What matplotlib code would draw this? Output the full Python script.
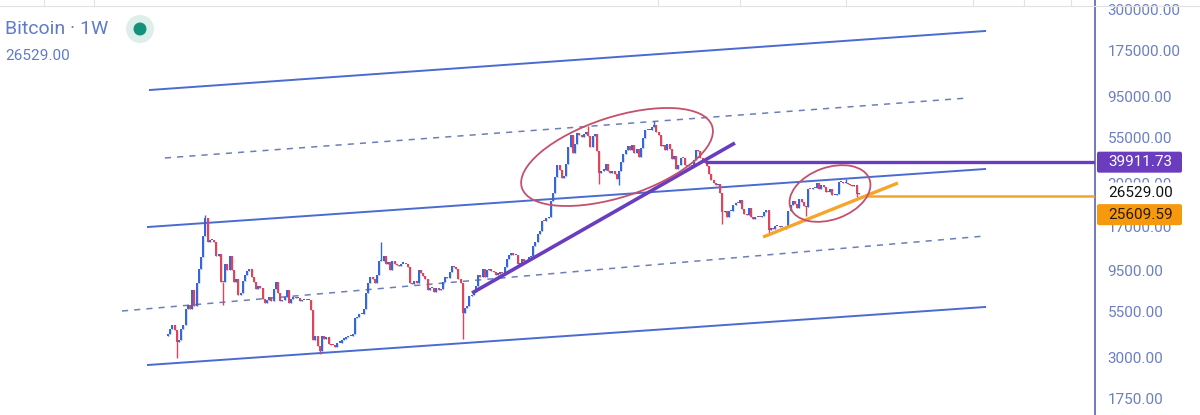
import numpy as np
import pandas as pd
import matplotlib
matplotlib.use("Agg")
import matplotlib.pyplot as plt
from matplotlib.patches import Ellipse, FancyBboxPatch
from matplotlib.transforms import ScaledTranslation
from matplotlib.lines import Line2D

plt.rcParams['font.family'] = ['Roboto', 'DejaVu Sans']

# weekly closes, week starting 2017-08-14
closes_2017 = [4090, 4350, 4580, 4330, 3680, 3780, 4360, 4610, 5690, 5990, 5720, 7360, 5950, 8040,
               9730, 11300, 15000, 19100, 13900, 14150]
closes_2018 = [14200, 13800, 11500, 11800, 8200, 8100, 10400, 9600, 11500, 9500, 8200, 8500, 6900,
               7000, 8300, 8900, 9400, 9700, 8700, 8200, 7400, 7700, 7500, 6500, 6200, 6400,
               6700, 6300, 7400, 8200, 7000, 6300, 6400, 6700, 7300, 6200, 6500, 6700, 6600,
               6600, 6300, 6400, 6450, 6400, 6400, 5600, 3800, 4000, 3500, 3250, 4000, 3850, 3950]
closes_2019 = [3600, 3550, 3530, 3450, 3650, 3650, 3800, 3850, 3920, 4000, 4000, 4100,
               5050, 5100, 5300, 5300, 5700, 7000, 8000, 8700, 8500, 8000, 9000, 10800, 10800,
               11500, 10300, 10600, 9500, 10800, 10300, 10200, 10100, 10400, 10400, 10300, 10000,
               8050, 7900, 8300, 8000, 9500, 9200, 8800, 8500, 7300, 7500, 7500, 7100, 7500, 7300, 7400]
closes_2020 = [8200, 8700, 8600, 9300, 10100, 9900, 9700, 8500, 8000, 5400, 5800, 5900, 6800,
               6900, 7100, 7700, 8900, 8700, 9700, 8700, 9500, 9700, 9400, 9300, 9000, 9100,
               9250, 9200, 9900, 11100, 11700, 11900, 11700, 11700, 10300, 10300, 11000, 10800, 10700,
               11300, 11500, 13100, 13800, 15500, 16000, 18400, 18200, 19000, 19200, 23700, 26500, 33000]
closes_2021 = [38200, 36000, 32300, 33100, 38900, 48600, 57500, 45200, 51000, 59000, 57500, 55800,
               57800, 59800, 56200, 49000, 56600, 58200, 46400, 34700, 35700, 35800, 39100, 35500,
               34700, 35300, 34200, 31800, 35400, 39900, 44600, 47000, 49300, 47100, 49900, 45200,
               47300, 42700, 48200, 54900, 61500, 61300, 61300, 63300, 65500, 59700, 57200, 49400,
               50100, 46700, 50800, 47300]
closes_2022 = [41800, 43100, 36300, 38200, 42400, 42200, 38400, 37700, 38400, 37800, 41300, 46800,
               46400, 42200, 40400, 39500, 37700, 34100, 31300, 30300, 29400, 29900, 26600, 20600,
               21000, 19300, 20800, 20800, 22600, 23300, 23200, 24300, 21500, 20000, 19800, 21800,
               19400, 18800, 19300, 19400, 19200, 19600, 20600, 21200, 16300, 16700, 16400, 17100,
               17100, 16800, 16800, 16500]
closes_2023 = [17100, 20900, 22700, 23800, 22900, 21800, 24600, 23500, 22200, 22100, 28000, 27900,
               28500, 28300, 30300, 27800, 29300, 28900, 26900, 26700, 28100, 25700, 25900, 26300,
               30500, 30600, 30300, 30300, 29800, 29300, 29100, 29400, 26100, 26529]

# notable wick extremes by week
wick_lows = {"2017-09-11": 2970, "2018-02-05": 6000, "2018-12-10": 3150, "2020-03-09": 3850,
             "2021-05-17": 30000, "2021-07-19": 29300, "2022-06-13": 17600, "2022-11-07": 15500,
             "2023-03-06": 19600, "2023-08-14": 25200}
wick_highs = {"2017-12-11": 19800, "2019-06-24": 13800, "2021-04-12": 64800, "2021-11-08": 69000,
              "2023-07-10": 31800}

yticks = [1750, 3000, 5500, 9500, 17000, 30000, 55000, 95000, 175000, 300000]

# drawings: (week index, price)
channel_solid = [[(-8.2, 103900), (371.4, 227100)],
                 [(-9.1, 16900), (371.4, 36450)],
                 [(-9.1, 2713), (371.4, 5852)]]
channel_dashed = [[(-1.4, 42190), (363.6, 93440)],
                  [(-20.9, 5549), (371.4, 15000)]]
purple_trend = [(138.2, 7043), (257.7, 51450)]
orange_trend = [(270.5, 14800), (331.8, 30280)]
purple_level = 39911.73
orange_level = 25609.59
last_price = 26529.00
purple_level_start = 245
orange_level_start = 317.7
# ellipses: center (week, price), half-axes in px, angle
ellipses = [(204.1, 42740, 100, 40, 18), (300.9, 26340, 42, 26, 20)]

closes = np.array(closes_2017 + closes_2018 + closes_2019 + closes_2020 +
                  closes_2021 + closes_2022 + closes_2023, dtype=float)
dates = pd.date_range("2017-08-14", periods=len(closes), freq="W-MON")
opens = np.concatenate([[4000.0], closes[:-1]])
highs = np.maximum(opens, closes)
lows = np.minimum(opens, closes)
for d, v in wick_lows.items():
    lows[dates.get_loc(pd.Timestamp(d))] = v
for d, v in wick_highs.items():
    highs[dates.get_loc(pd.Timestamp(d))] = v
x = np.arange(len(closes))

W, H, DPI = 1200, 415, 100
fig = plt.figure(figsize=(W / DPI, H / DPI), dpi=DPI)
ax = fig.add_axes([0, 0, 1095 / W, 1])
ax.set_yscale("log")
ax.set_xlim(-76.36, 421.36)
ax.set_ylim(1398, 342500)

up = closes >= opens
blue, red = "#3567dc", "#e0435a"
cols = np.where(up, blue, red)
ax.vlines(x, lows, highs, colors=cols, lw=1.0, zorder=3)
bottoms = np.minimum(opens, closes)
heights = np.maximum(np.abs(closes - opens), bottoms * 0.015)
ax.bar(x, heights, bottom=bottoms, width=0.85, color=cols, linewidth=0, zorder=3)

for seg in channel_solid:
    (x0, y0), (x1, y1) = seg
    ax.plot([x0, x1], [y0, y1], color="#4a6bd0", lw=1.4, zorder=2)
for seg in channel_dashed:
    (x0, y0), (x1, y1) = seg
    ax.plot([x0, x1], [y0, y1], color="#6c7fb8", lw=1.1, ls=(0, (4, 4)), zorder=2)

ax.plot(*zip(*purple_trend), color="#6a3dbf", lw=2.6, zorder=4, solid_capstyle="butt")
ax.plot(*zip(*orange_trend), color="#f5a52a", lw=2.4, zorder=4, solid_capstyle="butt")
ax.plot([purple_level_start, 421.36], [purple_level, purple_level], color="#6a3dbf", lw=2.4, zorder=4)
ax.plot([orange_level_start, 421.36], [orange_level, orange_level], color="#f5a52a", lw=1.8, zorder=4)

for xc, yc, a, b, ang in ellipses:
    tr = fig.dpi_scale_trans + ScaledTranslation(xc, yc, ax.transData)
    e = Ellipse((0, 0), 2 * a / DPI, 2 * b / DPI, angle=ang, transform=tr,
                fill=False, ec="#c4506c", lw=1.3, zorder=5)
    ax.add_patch(e)

# axes styling
for s in ["left", "top", "bottom"]:
    ax.spines[s].set_visible(False)
ax.spines["right"].set_color("#5565ad")
ax.spines["right"].set_linewidth(1.2)
ax.set_xticks([])
ax.yaxis.tick_right()
ax.set_yticks(yticks)
ax.set_yticklabels(["%.2f" % v for v in yticks])
ax.yaxis.set_minor_locator(matplotlib.ticker.NullLocator())
ax.tick_params(axis="y", length=0, pad=9, labelsize=11, labelcolor="#6b7fc4")


# price labels on the axis: boxes in pixel coordinates
def price_label(price, text, fc, tc, dy=0):
    ypx = ax.transData.transform((0, price))[1] + dy
    box = FancyBboxPatch((1097, ypx - 10.5), 85, 21, boxstyle="round,pad=0,rounding_size=2",
                         transform=None, fc=fc, ec="none", zorder=10)
    fig.patches.append(box)
    fig.text(1108 / W, ypx / H, text, fontsize=11, color=tc, va="center", ha="left", zorder=11)


price_label(purple_level, "%.2f" % purple_level, "#6a3dbf", "white")
price_label(last_price, "%.2f" % last_price, "white", "#111111")
price_label(orange_level, "%.2f" % orange_level, "#f7990c", "#2a1a00", dy=-19)

# header
fig.text(5 / W, 1 - 29 / H, "Bitcoin · 1W", fontsize=14, color="#5f7bd0", va="center", ha="left")
fig.text(5 / W, 1 - 56 / H, "%.2f" % last_price, fontsize=11, color="#5f7bd0", va="center", ha="left")
fig.patches.append(Ellipse((140 / W, 1 - 29 / H), 28 / W, 28 / H, transform=fig.transFigure,
                           fc="#dcefeb", ec="none"))
fig.patches.append(Ellipse((140 / W, 1 - 29 / H), 13 / W, 13 / H, transform=fig.transFigure,
                           fc="#14917a", ec="none"))
fig.add_artist(Line2D([0, 1], [1 - 6 / H, 1 - 6 / H], color="#e2e2e2", lw=0.8))
for sx in [44, 94, 658, 740, 846, 973, 1024, 1071]:
    fig.add_artist(Line2D([sx / W, sx / W], [1 - 6 / H, 1], color="#e2e2e2", lw=0.8))

fig.savefig("out.png", dpi=DPI, facecolor="white")
